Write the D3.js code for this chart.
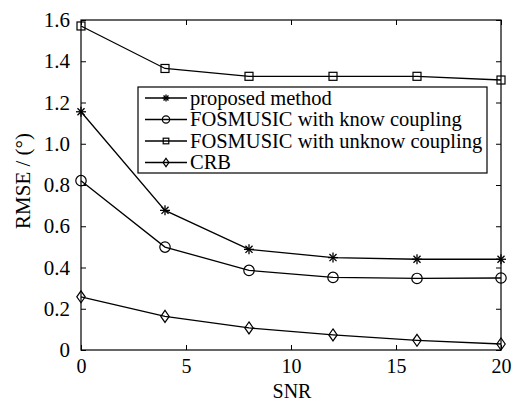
<!DOCTYPE html>
<html>
<head>
<meta charset="utf-8">
<script src="https://cdn.jsdelivr.net/npm/d3@7"></script>
<style>
html,body{margin:0;padding:0;background:#fff;}
svg{display:block;}
text{font-family:"Liberation Serif","Times New Roman",serif;fill:#000;}
</style>
</head>
<body>
<svg id="chart" width="521" height="402"></svg>
<script>
const snr = [0, 4, 8, 12, 16, 20];
const proposed = [1.155, 0.677, 0.488, 0.448, 0.440, 0.440];
const knowCoupling = [0.821, 0.499, 0.386, 0.352, 0.347, 0.349];
const unknowCoupling = [1.571, 1.365, 1.327, 1.327, 1.327, 1.309];
const crb = [0.258, 0.163, 0.107, 0.073, 0.047, 0.029];
const xTicks = [0, 5, 10, 15, 20];
const yTicks = [0, 0.2, 0.4, 0.6, 0.8, 1.0, 1.2, 1.4, 1.6];
const yTickLabels = ["0", "0.2", "0.4", "0.6", "0.8", "1.0", "1.2", "1.4", "1.6"];
const seriesNames = ["proposed method", "FOSMUSIC with know coupling", "FOSMUSIC with unknow coupling", "CRB"];
const seriesMarkers = ["star", "circle", "square", "diamond"];
const seriesValues = [proposed, knowCoupling, unknowCoupling, crb];

const L = 81, R = 501, T = 20, B = 350;
const FS = 21;
const svg = d3.select("#chart");
const x = d3.scaleLinear().domain([0, 20]).range([L, R]);
const y = d3.scaleLinear().domain([0, 1.6]).range([B, T]);

// frame
svg.append("rect").attr("x", L).attr("y", T).attr("width", R - L).attr("height", B - T)
  .attr("fill", "none").attr("stroke", "#000").attr("stroke-width", 1.2);

// ticks inside
const tl = 5;
const xb = svg.append("g").attr("transform", `translate(0,${B})`)
  .call(d3.axisBottom(x).tickValues(xTicks).tickSize(-tl).tickPadding(9).tickFormat(d3.format("d")));
const xt = svg.append("g").attr("transform", `translate(0,${T})`)
  .call(d3.axisTop(x).tickValues(xTicks).tickSize(-tl).tickFormat(""));
const yl = svg.append("g").attr("transform", `translate(${L},0)`)
  .call(d3.axisLeft(y).tickValues(yTicks).tickSize(-tl).tickPadding(tl + 6).tickFormat((d, i) => yTickLabels[i]));
const yr = svg.append("g").attr("transform", `translate(${R},0)`)
  .call(d3.axisRight(y).tickValues(yTicks).tickSize(-tl).tickFormat(""));
[xb, xt, yl, yr].forEach(g => {
  g.select(".domain").remove();
  g.selectAll("line").attr("stroke", "#000").attr("stroke-width", 1);
  g.selectAll("text").attr("font-size", FS).attr("font-family", "Liberation Serif").attr("fill", "#000");
});
xb.selectAll("text").attr("font-size", 20);

// axis titles
svg.append("text").attr("x", (L + R) / 2 + 1).attr("y", 397.5).attr("text-anchor", "middle")
  .attr("font-size", 20).text("SNR");
svg.append("text").attr("transform", `translate(30,181) rotate(-90)`).attr("text-anchor", "middle")
  .attr("font-size", FS).text("RMSE / (°)");

function drawMarker(g, type, cx, cy, s) {
  const k = s;
  if (type === "star") {
    const r = 5 * k;
    for (let a = 0; a < 4; a++) {
      const ang = a * Math.PI / 4;
      g.append("line").attr("x1", cx - r * Math.cos(ang)).attr("y1", cy - r * Math.sin(ang))
        .attr("x2", cx + r * Math.cos(ang)).attr("y2", cy + r * Math.sin(ang))
        .attr("stroke", "#000").attr("stroke-width", 1.3);
    }
  } else if (type === "circle") {
    g.append("circle").attr("cx", cx).attr("cy", cy).attr("r", 5.2 * k)
      .attr("fill", "none").attr("stroke", "#000").attr("stroke-width", 1.2);
  } else if (type === "square") {
    const h = 4 * k;
    g.append("rect").attr("x", cx - h).attr("y", cy - h).attr("width", 2 * h).attr("height", 2 * h)
      .attr("fill", "none").attr("stroke", "#000").attr("stroke-width", 1.2);
  } else if (type === "diamond") {
    const w = 4.2 * k, h = 6 * k;
    g.append("path").attr("d", `M${cx},${cy - h}L${cx + w},${cy}L${cx},${cy + h}L${cx - w},${cy}Z`)
      .attr("fill", "none").attr("stroke", "#000").attr("stroke-width", 1.2);
  }
}

const line = d3.line().x((d, i) => x(snr[i])).y(d => y(d));
seriesValues.forEach((vals, si) => {
  const g = svg.append("g");
  g.append("path").datum(vals).attr("d", line).attr("fill", "none").attr("stroke", "#000").attr("stroke-width", 1.3);
  vals.forEach((v, i) => drawMarker(g, seriesMarkers[si], x(snr[i]), y(v), 1));
});

// legend
const lg = svg.append("g");
const lx = 138, ly = 87, lw = 349, lh = 86;
lg.append("rect").attr("x", lx).attr("y", ly).attr("width", lw).attr("height", lh)
  .attr("fill", "#fff").attr("stroke", "#000").attr("stroke-width", 1.2);
seriesNames.forEach((name, i) => {
  const cy = ly + 11 + i * 21.5;
  lg.append("line").attr("x1", 145).attr("x2", 187).attr("y1", cy).attr("y2", cy)
    .attr("stroke", "#000").attr("stroke-width", 1.3);
  drawMarker(lg, seriesMarkers[i], 166, cy, 0.7);
  lg.append("text").attr("x", 190).attr("y", cy + 6.5).attr("font-size", 20.5).text(name);
});
</script>
</body>
</html>
